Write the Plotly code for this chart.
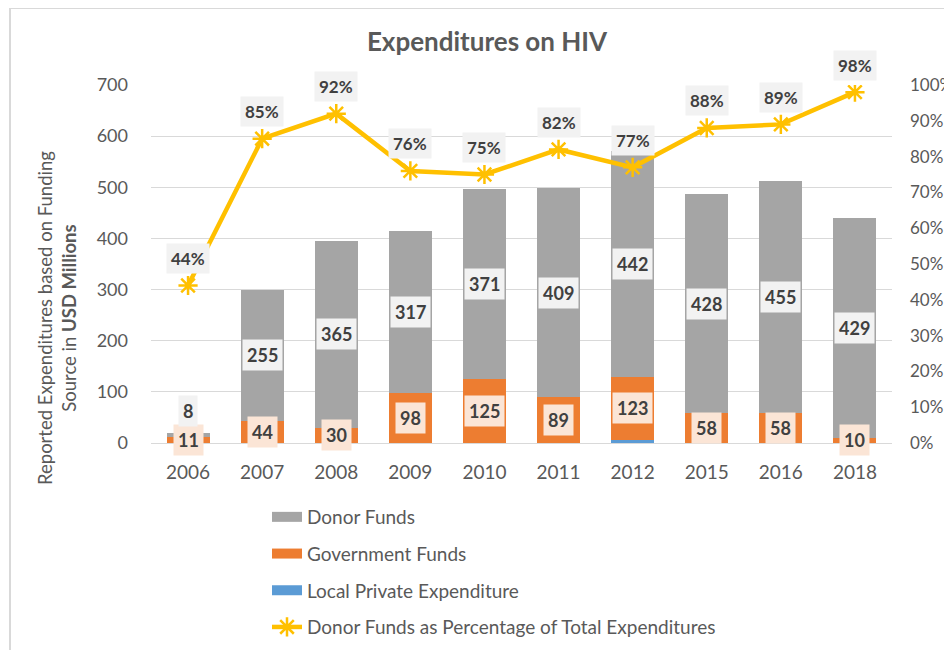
import plotly.graph_objects as go

years = ["2006", "2007", "2008", "2009", "2010", "2011", "2012", "2015", "2016", "2018"]
donor = [8, 255, 365, 317, 371, 409, 442, 428, 455, 429]
government = [11, 44, 30, 98, 125, 89, 123, 58, 58, 10]
local_private = [0, 0, 0, 0, 0, 0, 6, 0, 0, 0]
donor_pct = [0.44, 0.85, 0.92, 0.76, 0.75, 0.82, 0.77, 0.88, 0.89, 0.98]
pct_labels = ["44%", "85%", "92%", "76%", "75%", "82%", "77%", "88%", "89%", "98%"]

C_DONOR = "#A5A5A5"
C_GOV = "#ED7D31"
C_PRIV = "#5B9BD5"
C_LINE = "#FFC000"
FONT = "Lato"
TXT = "#595959"
LBL = "#404040"

# page body margin offset (the html page places the figure 8px in)
OFF = 8
W, H = 952 - OFF, 650 - OFF
PL, PR, PT, PB = 151, 892, 85, 443   # plot area in screen pixels
PW, PH = PR - PL, PB - PT


def px(x):
    return (x - PL) / PW


def py(y):
    return (PB - y) / PH


xpos = list(range(len(years)))

fig = go.Figure()
fig.add_trace(go.Bar(x=xpos, y=local_private, marker_color=C_PRIV, showlegend=False,
                     name="Local Private Expenditure", marker_line_width=0))
fig.add_trace(go.Bar(x=xpos, y=government, marker_color=C_GOV, showlegend=False,
                     name="Government Funds", marker_line_width=0))
fig.add_trace(go.Bar(x=xpos, y=donor, marker_color=C_DONOR, showlegend=False,
                     name="Donor Funds", marker_line_width=0))

# legend entries (wide flat swatches like the original)
for nm, col, grp in [("Donor Funds", C_DONOR, "d"), ("Government Funds", C_GOV, "g"),
                     ("Local Private Expenditure", C_PRIV, "p")]:
    fig.add_trace(go.Scatter(x=[None], y=[None], mode="lines", line=dict(color=col, width=10),
                             name=nm, legendgroup=grp, showlegend=True))

fig.add_trace(go.Scatter(x=xpos, y=donor_pct, yaxis="y2", mode="lines+markers",
                         name="Donor Funds as Percentage of Total Expenditures",
                         legendgroup="l",
                         line=dict(color=C_LINE, width=4.5),
                         marker=dict(symbol="asterisk-open", size=16,
                                     line=dict(color=C_LINE, width=2.5), color=C_LINE)))

ann = []
for i, xp in enumerate(xpos):
    base = local_private[i]
    ann.append(dict(x=xp, y=base + government[i] / 2, xref="x", yref="y", text=str(government[i]),
                    showarrow=False, bgcolor="#FBE5D6", borderpad=4,
                    font=dict(family=FONT, size=18, color=LBL, weight="bold")))
    ys = 24 if i == 0 else 0
    ann.append(dict(x=xp, y=base + government[i] + donor[i] / 2, xref="x", yref="y",
                    text=str(donor[i]), showarrow=False, bgcolor="#F2F2F2", borderpad=4, yshift=ys,
                    font=dict(family=FONT, size=18, color=LBL, weight="bold")))
    ann.append(dict(x=xp, y=donor_pct[i], xref="x", yref="y2", text=pct_labels[i],
                    showarrow=False, bgcolor="#F2F2F2", borderpad=4, yshift=27,
                    font=dict(family=FONT, size=17, color=LBL, weight="bold")))

ann.append(dict(x=px(57), y=py(318), xref="paper", yref="paper",
                xanchor="center", yanchor="middle",
                text="Reported Expenditures based on Funding<br>Source in <b>USD Millions</b>",
                textangle=-90, showarrow=False, align="center",
                font=dict(family=FONT, size=18.5, color=TXT)))

shapes = [dict(type="rect", xref="paper", yref="paper",
               x0=px(10), x1=px(1000), y0=py(700), y1=py(8),
               line=dict(color="#D9D9D9", width=2), layer="below")]

fig.update_layout(
    width=W, height=H,
    margin=dict(l=PL - OFF, r=W - (PR - OFF), t=PT - OFF, b=H - (PB - OFF), autoexpand=False),
    paper_bgcolor="white", plot_bgcolor="white",
    barmode="stack", bargap=0.42,
    font=dict(family=FONT, size=18, color=TXT),
    title=dict(text="<b>Expenditures on HIV</b>", x=px(487), xref="paper",
               y=1 - (42 - OFF) / H, yanchor="middle", xanchor="center",
               font=dict(family=FONT, size=26, color=TXT)),
    xaxis=dict(range=[-0.5, len(years) - 0.5], tickvals=xpos, ticktext=years,
               showgrid=False, zeroline=False, showline=True, linecolor="#D9D9D9", linewidth=1,
               ticks="", tickfont=dict(size=19, color=TXT), ticklabelstandoff=12),
    yaxis=dict(range=[0, 700], dtick=100, showgrid=True, gridcolor="#D9D9D9", gridwidth=1,
               zeroline=False, ticks="", tickfont=dict(size=18, color=TXT), ticklabelstandoff=22),
    yaxis2=dict(range=[0, 1], dtick=0.1, tickformat=".0%", overlaying="y", side="right",
                showgrid=False, zeroline=False, ticks="", tickfont=dict(size=17, color=TXT),
                ticklabelstandoff=17),
    legend=dict(x=px(267), y=py(498), xanchor="left", yanchor="top",
                orientation="v", traceorder="grouped", tracegroupgap=9,
                font=dict(family=FONT, size=19, color=TXT), bgcolor="rgba(0,0,0,0)"),
    annotations=ann, shapes=shapes,
)

fig.write_html("out.html")
